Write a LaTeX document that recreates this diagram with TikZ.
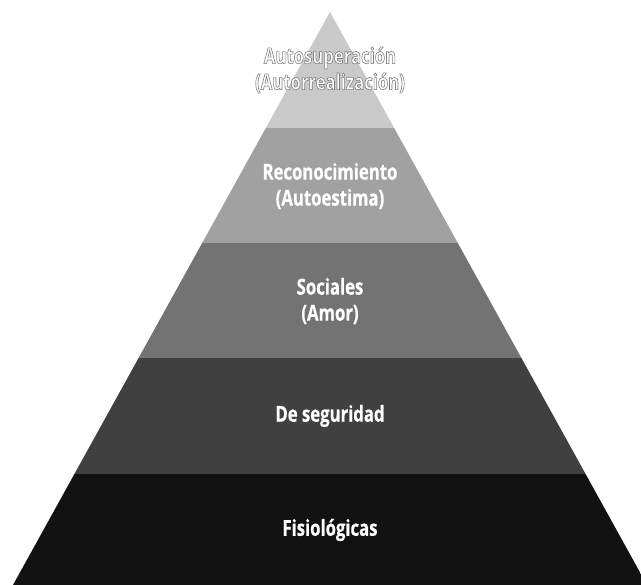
\documentclass[tikz,border=0pt]{standalone}
\usepackage{fontspec}
\setmainfont{Open Sans}[FakeStretch=0.76]

\definecolor{levelA}{gray}{0.79}
\definecolor{levelB}{gray}{0.63}
\definecolor{levelC}{gray}{0.45}
\definecolor{levelD}{gray}{0.25}
\definecolor{levelE}{gray}{0.07}

% white letters with a grey rim (fill white, stroke grey)
\newcommand{\rimtext}[1]{{\addfontfeature{FakeBold=2.8}\special{pdf:bcolor [1] [0.5]}#1\special{pdf:ecolor}}}

\begin{document}
\begin{tikzpicture}[x=1pt, y=1pt,
                    every node/.style={text=white, align=center, font=\bfseries\fontsize{22}{26}\selectfont\addfontfeature{FakeBold=0.6}}
                   ]

    \useasboundingbox (0,0) rectangle (641,585);

    % Corners of the pyramid
    \coordinate (apex) at (330,573);
    \coordinate (base west) at (13,0);
    \coordinate (base east) at (647,0);

    % Layers, from the base up
    \begin{scope}
        \clip (base west) -- (apex) -- (base east) -- cycle;
        \foreach \ybot/\ytop/\col in {0/111/levelE, 111/227/levelD, 227/342/levelC, 342/457/levelB, 457/573/levelA} {
            \fill[\col] (0,\ybot) rectangle (660,\ytop);
        }
    \end{scope}

    % Labels of the layers
    \node (selfreal) at (330,515) {\rimtext{Autosuperación}\\\rimtext{(Autorrealización)}};
    \node (esteem) at (330,399) {Reconocimiento\\(Autoestima)};
    \node (social) at (330,284) {Sociales\\(Amor)};
    \node (safety) at (330,169) {De seguridad};
    \node (physio) at (330,55) {Fisiológicas};

\end{tikzpicture}
\end{document}
